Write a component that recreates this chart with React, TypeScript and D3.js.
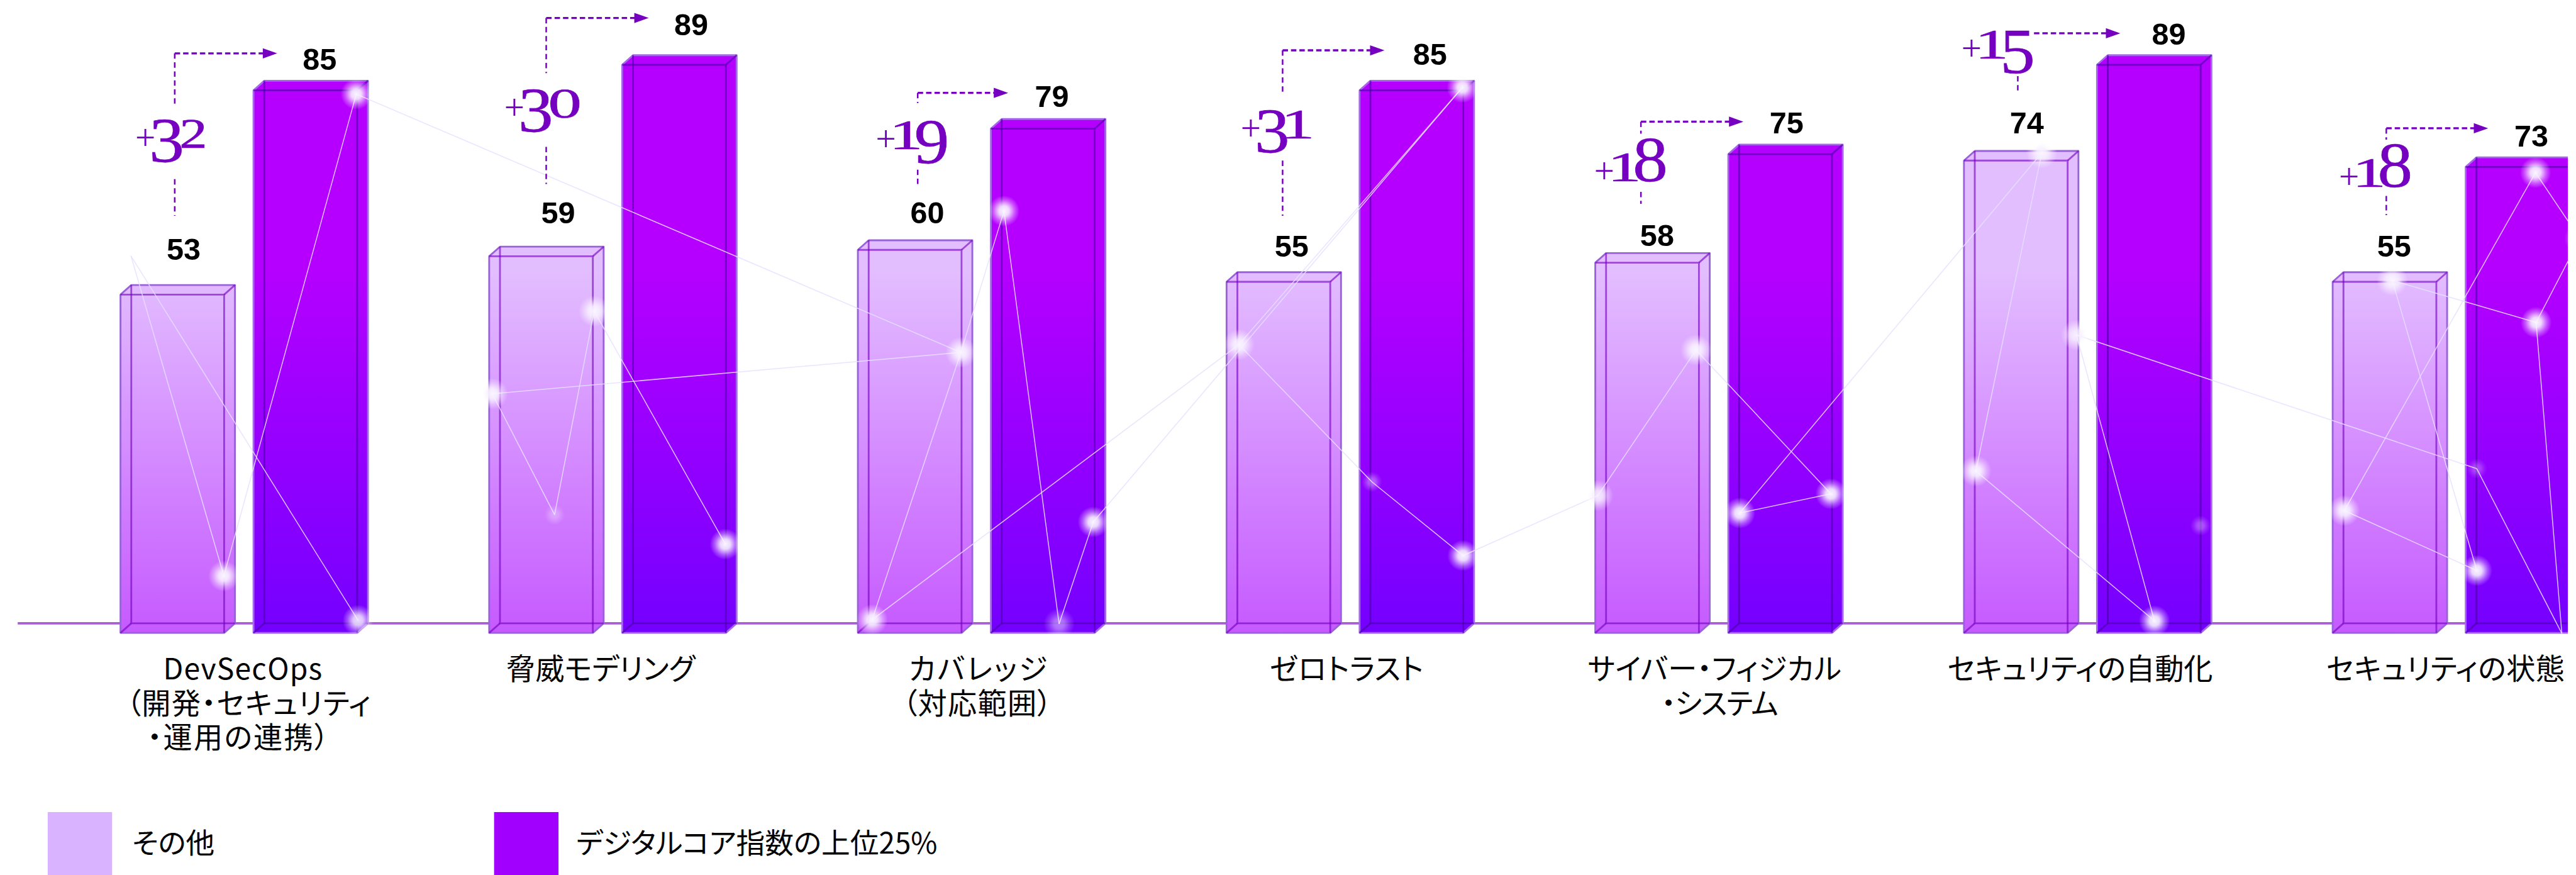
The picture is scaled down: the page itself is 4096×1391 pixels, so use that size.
import React from 'react';
import * as d3 from 'd3';

// Survey scores per security practice: the top quartile against everyone else.
const categoryLines = [
  ['DevSecOps', '（開発・セキュリティ', '・運用の連携）'],
  ['脅威モデリング'],
  ['カバレッジ', '（対応範囲）'],
  ['ゼロトラスト'],
  ['サイバー・フィジカル', '・システム'],
  ['セキュリティの自動化'],
  ['セキュリティの状態'],
];
const otherScores = [53, 59, 60, 55, 58, 74, 55];
const topScores = [85, 89, 79, 85, 75, 89, 73];
const deltas = [32, 30, 19, 31, 18, 15, 18];
const legendLabels = ['その他', 'デジタルコア指数の上位25%'];

// Text anchors and tracking for the labels around each group.
const categoryCenters = [
  [405, 415, 398],
  [1002],
  [1633, 1631],
  [2247],
  [2861, 2869],
  [3471],
  [4081],
];
const categoryTracking = [[1.3, 1.3, 2.3], [0], [3, 1.3], [0.6], [0.4, -1.3], [0], [0.4]];
const otherLabelAnchor = [[306, 433], [931, 373], [1547, 373], [2155, 428], [2765, 410], [3382, 223], [3995, 428]];
const topLabelAnchor = [[533, 117], [1153, 59], [1755, 178], [2386, 108], [2981, 223], [3619, 75], [4224, 245]];
const deltaAnchor = [[227, 247], [843, 196], [1463, 249], [2072, 231], [2662, 302], [3275, 98], [3905, 312]];

// Dashed connector: vertical x, riser start, elbow/arrow y, riser end below the number, arrow tip.
const connectorX = [291, 911, 1531, 2140, 2738, 3367, 3982];
const connectorY = [89, 30, 155, 84, 203, 55.5, 214];
const riserBreak = [174, 122, 172, 157, 223, null, 233];
const riserLow = [[299, 360], [245, 307], [283, 307], [268, 360], [320, 340], [127, 154], [327, 359]];
const arrowTip = [462, 1082, 1682, 2310, 2909, 3538, 4152];
const runStart = [null, null, null, null, null, 3394, null];

// Constellation drawn over the bars.
const stars: [number, number, number][] = [
  [218, 427, 0], [373, 961, 1], [597, 1035, 0.9], [594, 157, 1],
  [1603, 588, 1], [991, 519, 1], [821, 657, 1], [925, 859, 0.35], [1210, 908, 1],
  [1675, 352, 1], [1824, 871, 1], [1767, 1041, 0.5], [1455, 1034, 1],
  [2067, 575, 1], [2440, 146, 1], [2289, 804, 0.4], [2441, 927, 1],
  [2666, 827, 0.9], [2830, 584, 1], [2903, 856, 1], [3055, 824, 1], [3407, 255, 1],
  [3297, 786, 1], [3465, 559, 0.9], [3595, 1036, 1], [3672, 877, 0.35],
  [3912, 852, 1], [3992, 468, 1], [4133, 952, 1], [4133, 782, 0.3],
  [4231, 288, 1], [4232, 538, 1], [4275, 1057, 0], [4305, 398, 0.6],
];
const threads = [
  [0, 1], [0, 2], [3, 1], [3, 4],
  [5, 7], [5, 8], [7, 6], [6, 4],
  [4, 12], [9, 4], [9, 11], [11, 10], [12, 13], [10, 14], [13, 14],
  [13, 15], [15, 16], [16, 17], [17, 18], [18, 20], [19, 20], [19, 21],
  [22, 21], [22, 24], [23, 24], [23, 29],
  [26, 30], [26, 28], [27, 28], [27, 31], [29, 32], [31, 32], [30, 33], [31, 33],
];

const W = 4298;
const H = 1460;
const VIOLET = '#7500C0';
const BAR_W = 173;
const GAP = 222;
const DEPTH_X = 18;
const DEPTH_Y = 16;

const barLeft = d3.scaleLinear().domain([0, 6]).range([200.5, 3892.5]);
const y = d3.scaleLinear().domain([0, 100]).range([1056, -9]);

const polyline = d3.line();

function Bar({ x, value, fill, line, rim }: any) {
  const top = y(value);
  const bottom = y(0);
  const r = x + BAR_W;
  const hull: [number, number][] = [
    [x, top], [x + DEPTH_X, top - DEPTH_Y], [r + DEPTH_X, top - DEPTH_Y],
    [r + DEPTH_X, bottom - DEPTH_Y], [r, bottom], [x, bottom],
  ];
  // Only the edges inside the silhouette get the darker line.
  const inner: [number, number][][] = [
    [[x, top], [r, top], [r, bottom]],
    [[x + DEPTH_X, top - DEPTH_Y], [x + DEPTH_X, bottom - DEPTH_Y], [r + DEPTH_X, bottom - DEPTH_Y]],
    [[r, top], [r + DEPTH_X, top - DEPTH_Y]],
    [[x, bottom], [x + DEPTH_X, bottom - DEPTH_Y]],
  ];
  return (
    <g>
      <path d={polyline(hull) + 'Z'} fill={fill} stroke={rim} strokeWidth={3} strokeLinejoin="round" />
      {inner.map((e, i) => (
        <path key={i} d={polyline(e) as string} fill="none" stroke={line} strokeWidth={3} strokeOpacity={0.62} />
      ))}
    </g>
  );
}

// Old-style figures are built from the lining digits: low digits sit on the
// baseline at x-height, descending ones drop below it.
const lowDigitStretch: Record<string, number> = { '0': 1.6, '1': 1.6, '2': 1.33 };
const lowDigitAdvance: Record<string, number> = { '0': 52, '1': 41, '2': 44 };

function DeltaMark({ value, x, base }: any) {
  let cursor = x + 28;
  const digits = String(value).split('').map((d, i) => {
    const tallUp = '68'.includes(d);
    const tallDown = '34579'.includes(d);
    const tall = tallUp || tallDown;
    const advance = tall ? 45 : lowDigitAdvance[d];
    const cx = cursor + advance / 2;
    cursor += advance;
    return (
      <text
        key={i}
        textAnchor="middle"
        fontSize={tall ? 106 : 70}
        stroke={VIOLET}
        strokeWidth={0.7}
        transform={`translate(${cx},${base + (tallDown ? 24 : 0)}) scale(${tall ? 1.1 : lowDigitStretch[d]},1)`}
      >
        {d}
      </text>
    );
  });
  return (
    <g fill={VIOLET} fontFamily="'Liberation Serif', serif">
      <text x={x - 2} y={base + 3} fontSize={60}>+</text>
      {digits}
    </g>
  );
}

function Connector({ i }: any) {
  const cx = connectorX[i];
  const cy = connectorY[i];
  const tip = arrowTip[i];
  const start = runStart[i] ?? cx;
  const brk = riserBreak[i];
  return (
    <g fill="none" stroke={VIOLET}>
      <path d={`M${start},${cy}H${tip - 22}`} strokeWidth={3.5} strokeDasharray="9 5" />
      {brk !== null && <path d={`M${cx},${cy}V${brk}`} strokeWidth={2.6} strokeDasharray="9 6" />}
      <path d={`M${cx},${riserLow[i][0]}V${riserLow[i][1]}`} strokeWidth={2.6} strokeDasharray="9 6" />
      <polygon points={`${tip - 24},${cy - 8.5} ${tip},${cy} ${tip - 24},${cy + 8.5}`} fill={VIOLET} stroke="none" />
    </g>
  );
}

export default function App() {
  const cjk = "'Noto Sans CJK JP', 'Noto Sans', sans-serif";
  return (
    <svg
      width={4096}
      height={1391}
      viewBox={`0 0 ${W} ${H}`}
      style={{ position: 'absolute', left: 0, top: 0, display: 'block', background: '#fff' }}
    >
      <defs>
        <linearGradient id="otherFill" gradientUnits="userSpaceOnUse" x1="0" x2="0" y1="450" y2="1056">
          <stop offset="0" stopColor="#E3BEFF" />
          <stop offset="1" stopColor="#C65AFF" />
        </linearGradient>
        <linearGradient id="topFill" gradientUnits="userSpaceOnUse" x1="0" x2="0" y1="450" y2="1056">
          <stop offset="0" stopColor="#B500FF" />
          <stop offset="1" stopColor="#7400FF" />
        </linearGradient>
        <radialGradient id="starGlow">
          <stop offset="0" stopColor="#FAF5FF" stopOpacity="1" />
          <stop offset="0.32" stopColor="#F8F2FF" stopOpacity="0.9" />
          <stop offset="0.68" stopColor="#FFFFFF" stopOpacity="0.35" />
          <stop offset="1" stopColor="#FFFFFF" stopOpacity="0" />
        </radialGradient>
        <clipPath id="plotClip">
          <rect x={0} y={0} width={4285} height={H} />
        </clipPath>
      </defs>

      <g clipPath="url(#plotClip)">
        <line x1={29} x2={4285} y1={1040} y2={1040} stroke="#A95BD8" strokeWidth={4} />
        {otherScores.map((v, i) => (
          <Bar key={i} x={barLeft(i)} value={v} fill="url(#otherFill)" line={VIOLET} rim="#9A62DA" />
        ))}
        {topScores.map((v, i) => (
          <Bar key={i} x={barLeft(i) + GAP} value={v} fill="url(#topFill)" line="#4A00A8" rim="#A468E8" />
        ))}
        {threads.map(([a, b], i) => (
          <line
            key={i}
            x1={stars[a][0]}
            y1={stars[a][1]}
            x2={stars[b][0]}
            y2={stars[b][1]}
            stroke="#E6DFFF"
            strokeOpacity={0.85}
            strokeWidth={1.6}
          />
        ))}
        {stars.filter((s) => s[2] > 0).map((s, i) => (
          <circle key={i} cx={s[0]} cy={s[1]} r={s[2] < 0.5 ? 17 : 26} fill="url(#starGlow)" opacity={s[2]} />
        ))}
      </g>

      {deltas.map((d, i) => (
        <g key={i}>
          <Connector i={i} />
          <DeltaMark value={d} x={deltaAnchor[i][0]} base={deltaAnchor[i][1]} />
        </g>
      ))}

      <g fontFamily="'Liberation Sans', Arial, sans-serif" fontWeight={700} fontSize={51} textAnchor="middle" fill="#000">
        {otherScores.map((v, i) => (
          <text key={i} x={otherLabelAnchor[i][0]} y={otherLabelAnchor[i][1]}>{v}</text>
        ))}
        {topScores.map((v, i) => (
          <text key={i} x={topLabelAnchor[i][0]} y={topLabelAnchor[i][1]}>{v}</text>
        ))}
      </g>

      <g fontFamily={cjk} fontSize={48.5} textAnchor="middle" fill="#000" style={{ fontFeatureSettings: '"palt"' }}>
        {categoryLines.map((lines, i) =>
          lines.map((t, j) => (
            <text key={`${i}-${j}`} x={categoryCenters[i][j]} y={1134 + j * 57} letterSpacing={categoryTracking[i][j]}>
              {t}
            </text>
          )),
        )}
      </g>

      <rect x={79} y={1355} width={107.5} height={105} fill="#D9B3FF" />
      <rect x={824} y={1355} width={107.5} height={105} fill="#A100FF" />
      <g fontFamily={cjk} fontSize={48} fill="#000" style={{ fontFeatureSettings: '"palt"' }}>
        <text x={220} y={1424}>{legendLabels[0]}</text>
        <text x={961} y={1424}>{legendLabels[1]}</text>
      </g>
    </svg>
  );
}
